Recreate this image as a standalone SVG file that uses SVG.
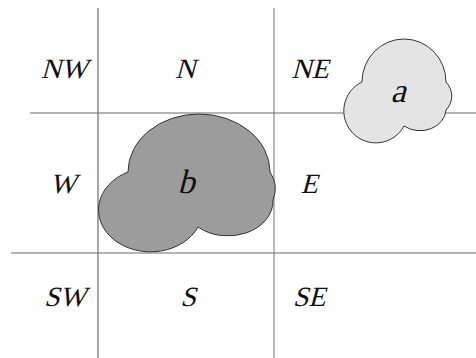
<svg xmlns="http://www.w3.org/2000/svg" width="476" height="358" viewBox="0 0 476 358">
<style>
.grid{stroke:#6a6a6a;stroke-width:1.2;fill:none}
.grid2{stroke:#a8a8a8;stroke-width:1.6;fill:none}
.t{font-size:28px;fill:#111;text-anchor:middle}
.big{font-size:34px}
.blob{stroke:#333;stroke-width:1}
</style>
<rect width="476" height="358" fill="#fff"/>
<g id="connectors">
<line class="grid" x1="98" y1="8" x2="98" y2="358"/>
<line class="grid2" x1="274" y1="8" x2="274" y2="358"/>
<line class="grid" x1="30" y1="113" x2="476" y2="113"/>
<line class="grid" x1="11" y1="253" x2="476" y2="253"/>
</g>
<g id="b">
<path class="blob" fill="#9c9c9c" d="M128,172 A71,58 0 0 1 270,172 A30,30 0 0 1 273,200 A45,35 0 0 1 198,227 A52,42 0 1 1 128,172 Z"/>
<text class="t big" font-family="Liberation Serif" transform="translate(186,193) skewX(-15)">b</text>
</g>
<g id="a">
<path class="blob" fill="#e4e4e4" d="M362,82 A42,43 0 0 1 446,82 A20,20 0 0 1 446,110 A26,22 0 0 1 404,126 A32,32 0 1 1 362,82 Z"/>
<text class="t big" font-family="Liberation Serif" transform="translate(398,102) skewX(-15)">a</text>
</g>
<g id="NW"><text class="t" font-family="Liberation Serif" transform="translate(64,78) skewX(-15)">NW</text></g>
<g id="N"><text class="t" font-family="Liberation Serif" transform="translate(185,78) skewX(-15)">N</text></g>
<g id="NE"><text class="t" font-family="Liberation Serif" transform="translate(310,78) skewX(-15)">NE</text></g>
<g id="W"><text class="t" font-family="Liberation Serif" transform="translate(63,193) skewX(-15)">W</text></g>
<g id="E"><text class="t" font-family="Liberation Serif" transform="translate(309,193) skewX(-15)">E</text></g>
<g id="SW"><text class="t" font-family="Liberation Serif" transform="translate(65,306) skewX(-15)">SW</text></g>
<g id="S"><text class="t" font-family="Liberation Serif" transform="translate(188,306) skewX(-15)">S</text></g>
<g id="SE"><text class="t" font-family="Liberation Serif" transform="translate(309,306) skewX(-15)">SE</text></g>
</svg>
